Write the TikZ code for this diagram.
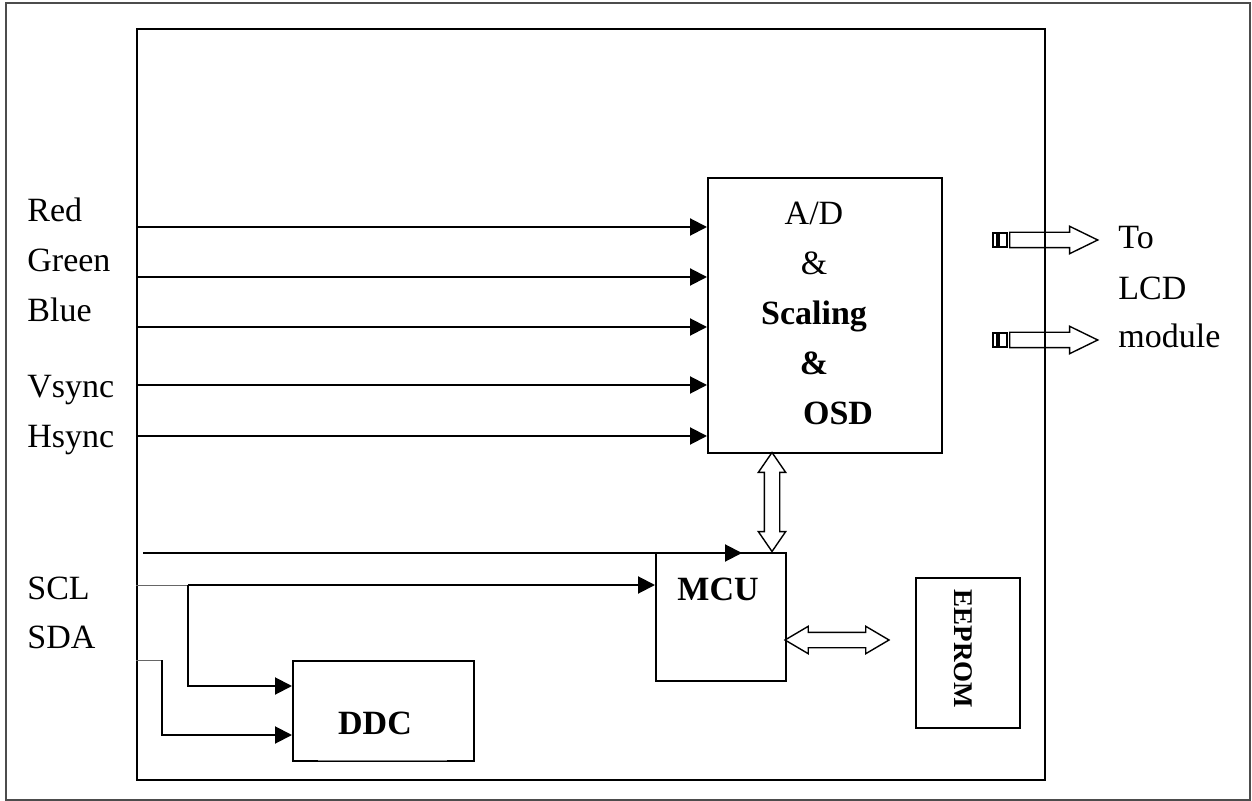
\documentclass[tikz,border=0pt]{standalone}
\usepackage{fontspec}
\setmainfont{Liberation Serif}
\usetikzlibrary{arrows.meta,shapes.arrows}

\begin{document}
\begin{tikzpicture}
      [
        x=0.5pt, y=-0.5pt,
        every node/.style={font=\fontsize{17}{20}\selectfont},
        arrowstyle/.style={draw, line width=1pt, -{Triangle[length=8.5pt,width=8.5pt]}},
        blockstyle/.style={draw, line width=1pt, inner sep=0pt, anchor=north west},
        boldtext/.style={font=\bfseries\fontsize{17}{20}\selectfont},
        sigtext/.style={anchor=base west, inner sep=0pt},
        busboth/.style={double arrow, draw, line width=0.7pt, inner xsep=0pt,
          inner ysep=3.5pt, minimum width=13pt, double arrow head extend=3pt},
        busout/.style={single arrow, draw, line width=0.7pt, inner xsep=0pt,
          inner ysep=3.5pt, minimum width=13pt, single arrow head extend=3pt,
          single arrow tip angle=52, anchor=west}
      ]

      \useasboundingbox (0,0) rectangle (1252,801);
      \draw[black!70, line width=0.7pt] (6,3) rectangle (1250,800);

      % blocks
      \node[blockstyle, minimum width=454pt, minimum height=375.5pt] (board) at (136,28) {};
      \node[blockstyle, minimum width=117pt, minimum height=137.5pt] (scaler) at (707,177) {};
      \node[align=center, font=\fontsize{17}{25}\selectfont] (scalertxt) at (814,313)
        {A/D\\\&\\\textbf{Scaling}\\\textbf{\&}\\\hspace*{24pt}\textbf{OSD}};
      \node[blockstyle, minimum width=65pt, minimum height=64pt] (mcu) at (655,552) {};
      \node[boldtext] (mcutxt) at (718,589) {MCU};
      \node[blockstyle, minimum width=90.5pt, minimum height=50pt] (ddc) at (292,660) {};
      \draw[white, line width=1.2pt] (318,760) -- (447,760);
      \draw[black!50, line width=0.5pt] (318,760) -- (447,760);
      \node[boldtext] (ddctxt) at (375,723) {DDC};
      \node[blockstyle, minimum width=52pt, minimum height=75pt] (eeprom) at (915,577) {};
      \node[font=\bfseries\fontsize{13.5}{16}\selectfont, rotate=-90] (eepromtxt) at (963,649) {EEPROM};

      % video inputs
      \foreach \name/\sy/\ly/\txt in {red/227/222/Red, green/277/272/Green,
          blue/327/322/Blue, vsync/385/398/Vsync, hsync/436/448/Hsync} {
        \node[sigtext] (\name lbl) at (27,\ly) {\txt};
        \coordinate (\name) at (136,\sy);
        \draw[arrowstyle] (\name) -- (\name -| scaler.west);
      }

      \coordinate (keyin) at (143,553);
      \coordinate (keyout) at (742,553);
      \draw[arrowstyle] (keyin) -- (keyout);

      % i2c lines
      \node[sigtext] (scllbl) at (27,599) {SCL};
      \node[sigtext] (sdalbl) at (27,648) {SDA};
      \coordinate (scl) at (136,585);
      \coordinate (sclsplit) at (188,585);
      \coordinate (sda) at (136,660);
      \coordinate (sdabend) at (162,660);
      \draw[black!60, line width=0.5pt] (scl) -- (sclsplit);
      \draw[arrowstyle] (sclsplit) -- (sclsplit -| mcu.west);
      \draw[arrowstyle] (sclsplit) |- (ddc.west |- 0,686);
      \draw[black!60, line width=0.5pt] (sda) -- (sdabend);
      \draw[arrowstyle] (sdabend) |- (ddc.west |- 0,735);

      % buses
      \node[busboth, rotate=90, minimum height=49.5pt, double arrow tip angle=69]
        (scalerbus) at (772,502) {};
      \node[busboth, minimum height=52pt, double arrow tip angle=61]
        (eeprombus) at (837,640) {};

      % to LCD module
      \foreach \name/\y in {lcda/240, lcdb/340} {
        \draw[line width=0.7pt] (993,233) ++(0,\y-240) rectangle ++(4,14);
        \draw[line width=0.7pt] (999,233) ++(0,\y-240) rectangle ++(8,14);
        \node[busout, minimum height=44pt] (\name) at (1009,\y) {};
      }
      \node[sigtext] (tolbl) at (1118,249) {To};
      \node[sigtext] (lcdlbl) at (1118,300) {LCD};
      \node[sigtext] (modlbl) at (1118,348) {module};

    \end{tikzpicture}
\end{document}
